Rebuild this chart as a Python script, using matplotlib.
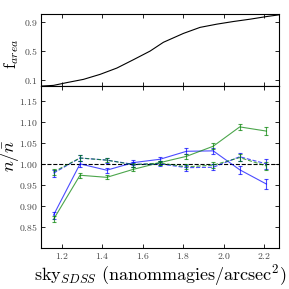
import matplotlib
matplotlib.use("Agg")
from matplotlib import pyplot as plt
from matplotlib.ticker import FuncFormatter

plt.rcParams["mathtext.fontset"] = "cm"
plt.rcParams["font.family"] = "serif"
plt.rcParams["font.serif"] = ["DejaVu Serif"]

# sky brightness bins
sky = [1.158, 1.289, 1.421, 1.552, 1.684, 1.815, 1.947, 2.078, 2.210]

# cumulative area fraction curve
sky_area = [1.095, 1.158, 1.224, 1.306, 1.388, 1.471, 1.553, 1.635, 1.701,
            1.800, 1.882, 1.965, 2.047, 2.130, 2.212, 2.270]
f_area = [0.020, 0.030, 0.068, 0.112, 0.180, 0.266, 0.380, 0.497, 0.617,
          0.738, 0.820, 0.864, 0.900, 0.932, 0.968, 0.990]

# n / nbar, solid = before weights, dashed = after weights
blue_solid = [0.878, 1.000, 0.985, 1.003, 1.011, 1.030, 1.031, 0.986, 0.952]
green_solid = [0.868, 0.973, 0.968, 0.987, 1.003, 1.018, 1.042, 1.088, 1.078]
blue_dash = [0.978, 1.014, 1.009, 0.999, 1.000, 0.991, 0.992, 1.017, 1.000]
green_dash = [0.981, 1.014, 1.009, 0.998, 1.002, 0.993, 0.997, 1.015, 0.995]
err_blue = [0.008, 0.007, 0.006, 0.006, 0.006, 0.007, 0.007, 0.009, 0.011]
err_green = [0.007, 0.006, 0.005, 0.005, 0.005, 0.006, 0.007, 0.008, 0.010]

fig = plt.figure(figsize=(2.89, 2.89), dpi=100)
ax_top = fig.add_axes([0.141, 0.702, 0.823, 0.249])
ax = fig.add_axes([0.141, 0.142, 0.823, 0.560])

math_fmt = lambda fmt: FuncFormatter(lambda v, p: "$" + format(v, fmt) + "$")

ax_top.plot(sky_area, f_area, color="k", lw=0.8)
ax_top.set_xlim(1.095, 2.27)
ax_top.set_ylim(0.02, 1.0)
ax_top.set_yticks([0.1, 0.5, 0.9])
ax_top.yaxis.set_major_formatter(math_fmt(".1f"))
ax_top.set_xticks([1.2, 1.4, 1.6, 1.8, 2.0, 2.2])
ax_top.set_xticklabels([])
ax_top.set_ylabel(r"$\mathrm{f}_{area}$", fontsize=12)
ax_top.yaxis.set_label_coords(-0.085, 0.45)

style = dict(lw=0.8, capsize=1.5, elinewidth=0.8, capthick=0.8, alpha=0.7,
             zorder=3)
ax.axhline(1.0, color="k", ls="--", lw=0.8, zorder=1)
ax.errorbar(sky, blue_solid, yerr=err_blue, color="b", ls="-", **style)
ax.errorbar(sky, green_solid, yerr=err_green, color="g", ls="-", **style)
ax.errorbar(sky, blue_dash, yerr=err_blue, color="b", ls="--", **style)
ax.errorbar(sky, green_dash, yerr=err_green, color="g", ls="--", **style)

ax.set_xlim(1.095, 2.27)
ax.set_ylim(0.80, 1.185)
ax.set_xticks([1.2, 1.4, 1.6, 1.8, 2.0, 2.2])
ax.set_yticks([0.85, 0.90, 0.95, 1.00, 1.05, 1.10, 1.15])
ax.xaxis.set_major_formatter(math_fmt(".1f"))
ax.yaxis.set_major_formatter(math_fmt(".2f"))
ax.set_ylabel(r"$n/\bar{n}$", fontsize=13)
ax.yaxis.set_label_coords(-0.085, 0.57)
ax.set_xlabel(r"$\mathrm{sky}_{SDSS}\ \mathrm{(nanommagies/arcsec^2)}$",
              fontsize=13, labelpad=1)

for a in (ax_top, ax):
    a.tick_params(direction="in", top=True, right=True, labelsize=7,
                  length=3, width=0.6, pad=2, labelcolor="#444444")
    for s in a.spines.values():
        s.set_linewidth(0.8)

fig.savefig("out.png", dpi=100)
